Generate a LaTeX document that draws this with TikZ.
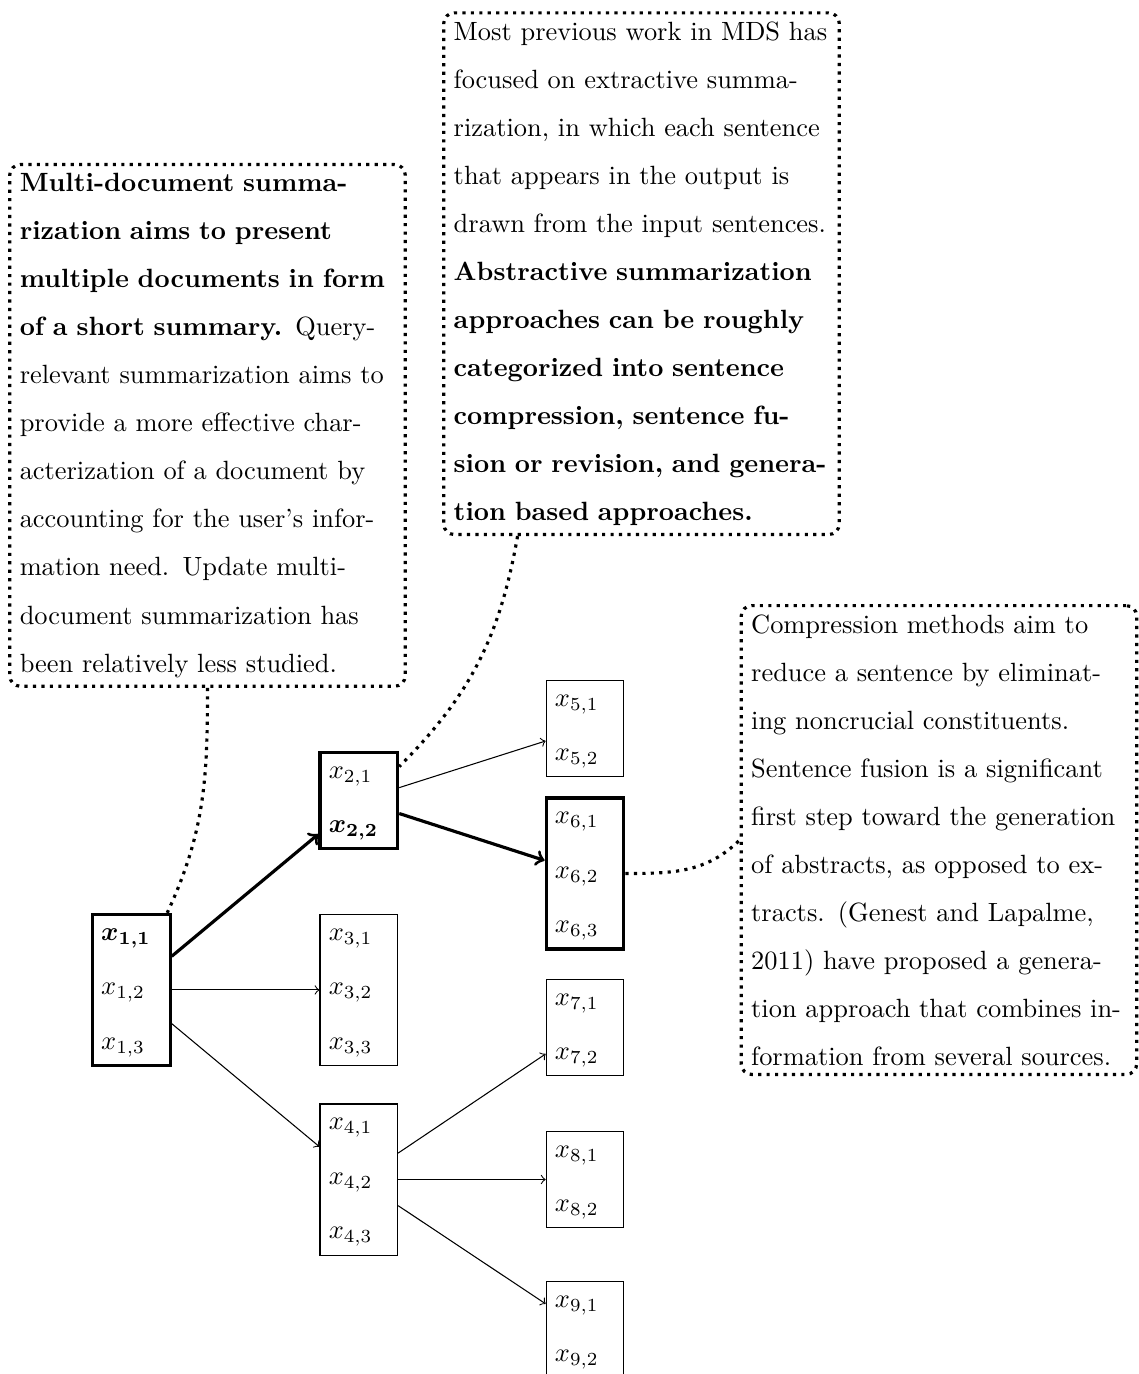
\documentclass[tikz,border=0pt]{standalone}
\usepackage{bm}
\tikzset{
  sent/.style={draw, text width=0.8cm, text height=6.5pt, align=left, font=\fontsize{10}{20.6}\selectfont},
  key/.style={sent, very thick},
  note/.style={draw, very thick, dotted, rounded corners, anchor=north, inner xsep=3.8pt, text width=5cm, align=left, font=\fontsize{10}{18.2}\selectfont},
  link/.style={very thick, dotted},
}
\begin{document}
\begin{tikzpicture}
  \useasboundingbox (0,0) rectangle (15.166,-18.296);
  % sentences of the documents
  \node[key] (d1) at (1.748,-13.182) {$\bm{x_{1,1}}$\\$x_{1,2}$\\$x_{1,3}$};
  \node[key] (d2) at (4.778,-10.659) {$x_{2,1}$\\$\bm{x_{2,2}}$};
  \node[sent] (d3) at (4.778,-13.182) {$x_{3,1}$\\$x_{3,2}$\\$x_{3,3}$};
  \node[sent] (d4) at (4.778,-15.706) {$x_{4,1}$\\$x_{4,2}$\\$x_{4,3}$};
  \node[sent] (d5) at (7.790,-9.700) {$x_{5,1}$\\$x_{5,2}$};
  \node[key] (d6) at (7.790,-11.631) {$x_{6,1}$\\$x_{6,2}$\\$x_{6,3}$};
  \node[sent] (d7) at (7.790,-13.682) {$x_{7,1}$\\$x_{7,2}$};
  \node[sent] (d8) at (7.790,-15.706) {$x_{8,1}$\\$x_{8,2}$};
  \node[sent] (d9) at (7.790,-17.710) {$x_{9,1}$\\$x_{9,2}$};
  \draw[->, very thick] (d1) -- (d2);
  \draw[->] (d1) -- (d3);
  \draw[->] (d1) -- (d4);
  \draw[->] (d2) -- (d5);
  \draw[->, very thick] (d2) -- (d6);
  \draw[->] (d4) -- (d7);
  \draw[->] (d4) -- (d8);
  \draw[->] (d4) -- (d9);
  % notes
  \node[note] (multi) at (2.763,-2.170) {\textbf{Multi-document summarization aims to present multiple documents in form of a short summary.} Query-relevant summarization aims to provide a more effective characterization of a document by accounting for the user's information need. Update multi-document summarization has been relatively less studied.};
  \node[note] (mds) at (8.542,-0.150) {Most previous work in MDS has focused on extractive summarization, in which each sentence that appears in the output is drawn from the input sentences. \textbf{Abstractive summarization approaches can be roughly categorized into sentence compression, sentence fusion or revision, and generation based approaches.}};
  \node[note] (comp) at (12.503,-8.043) {Compression methods aim to reduce a sentence by eliminating noncrucial constituents. Sentence fusion is a significant first step toward the generation of abstracts, as opposed to extracts. (Genest and Lapalme, 2011) have proposed a generation approach that combines information from several sources.};
  \draw[link] (multi.south) to[out=-90, in=65] (d1.65);
  \draw[link] ([xshift=-1.65cm]mds.south) to[out=-100, in=45] (d2.40);
  \draw[link] (d6.east) to[out=0, in=-135] (comp.west);
\end{tikzpicture}
\end{document}
